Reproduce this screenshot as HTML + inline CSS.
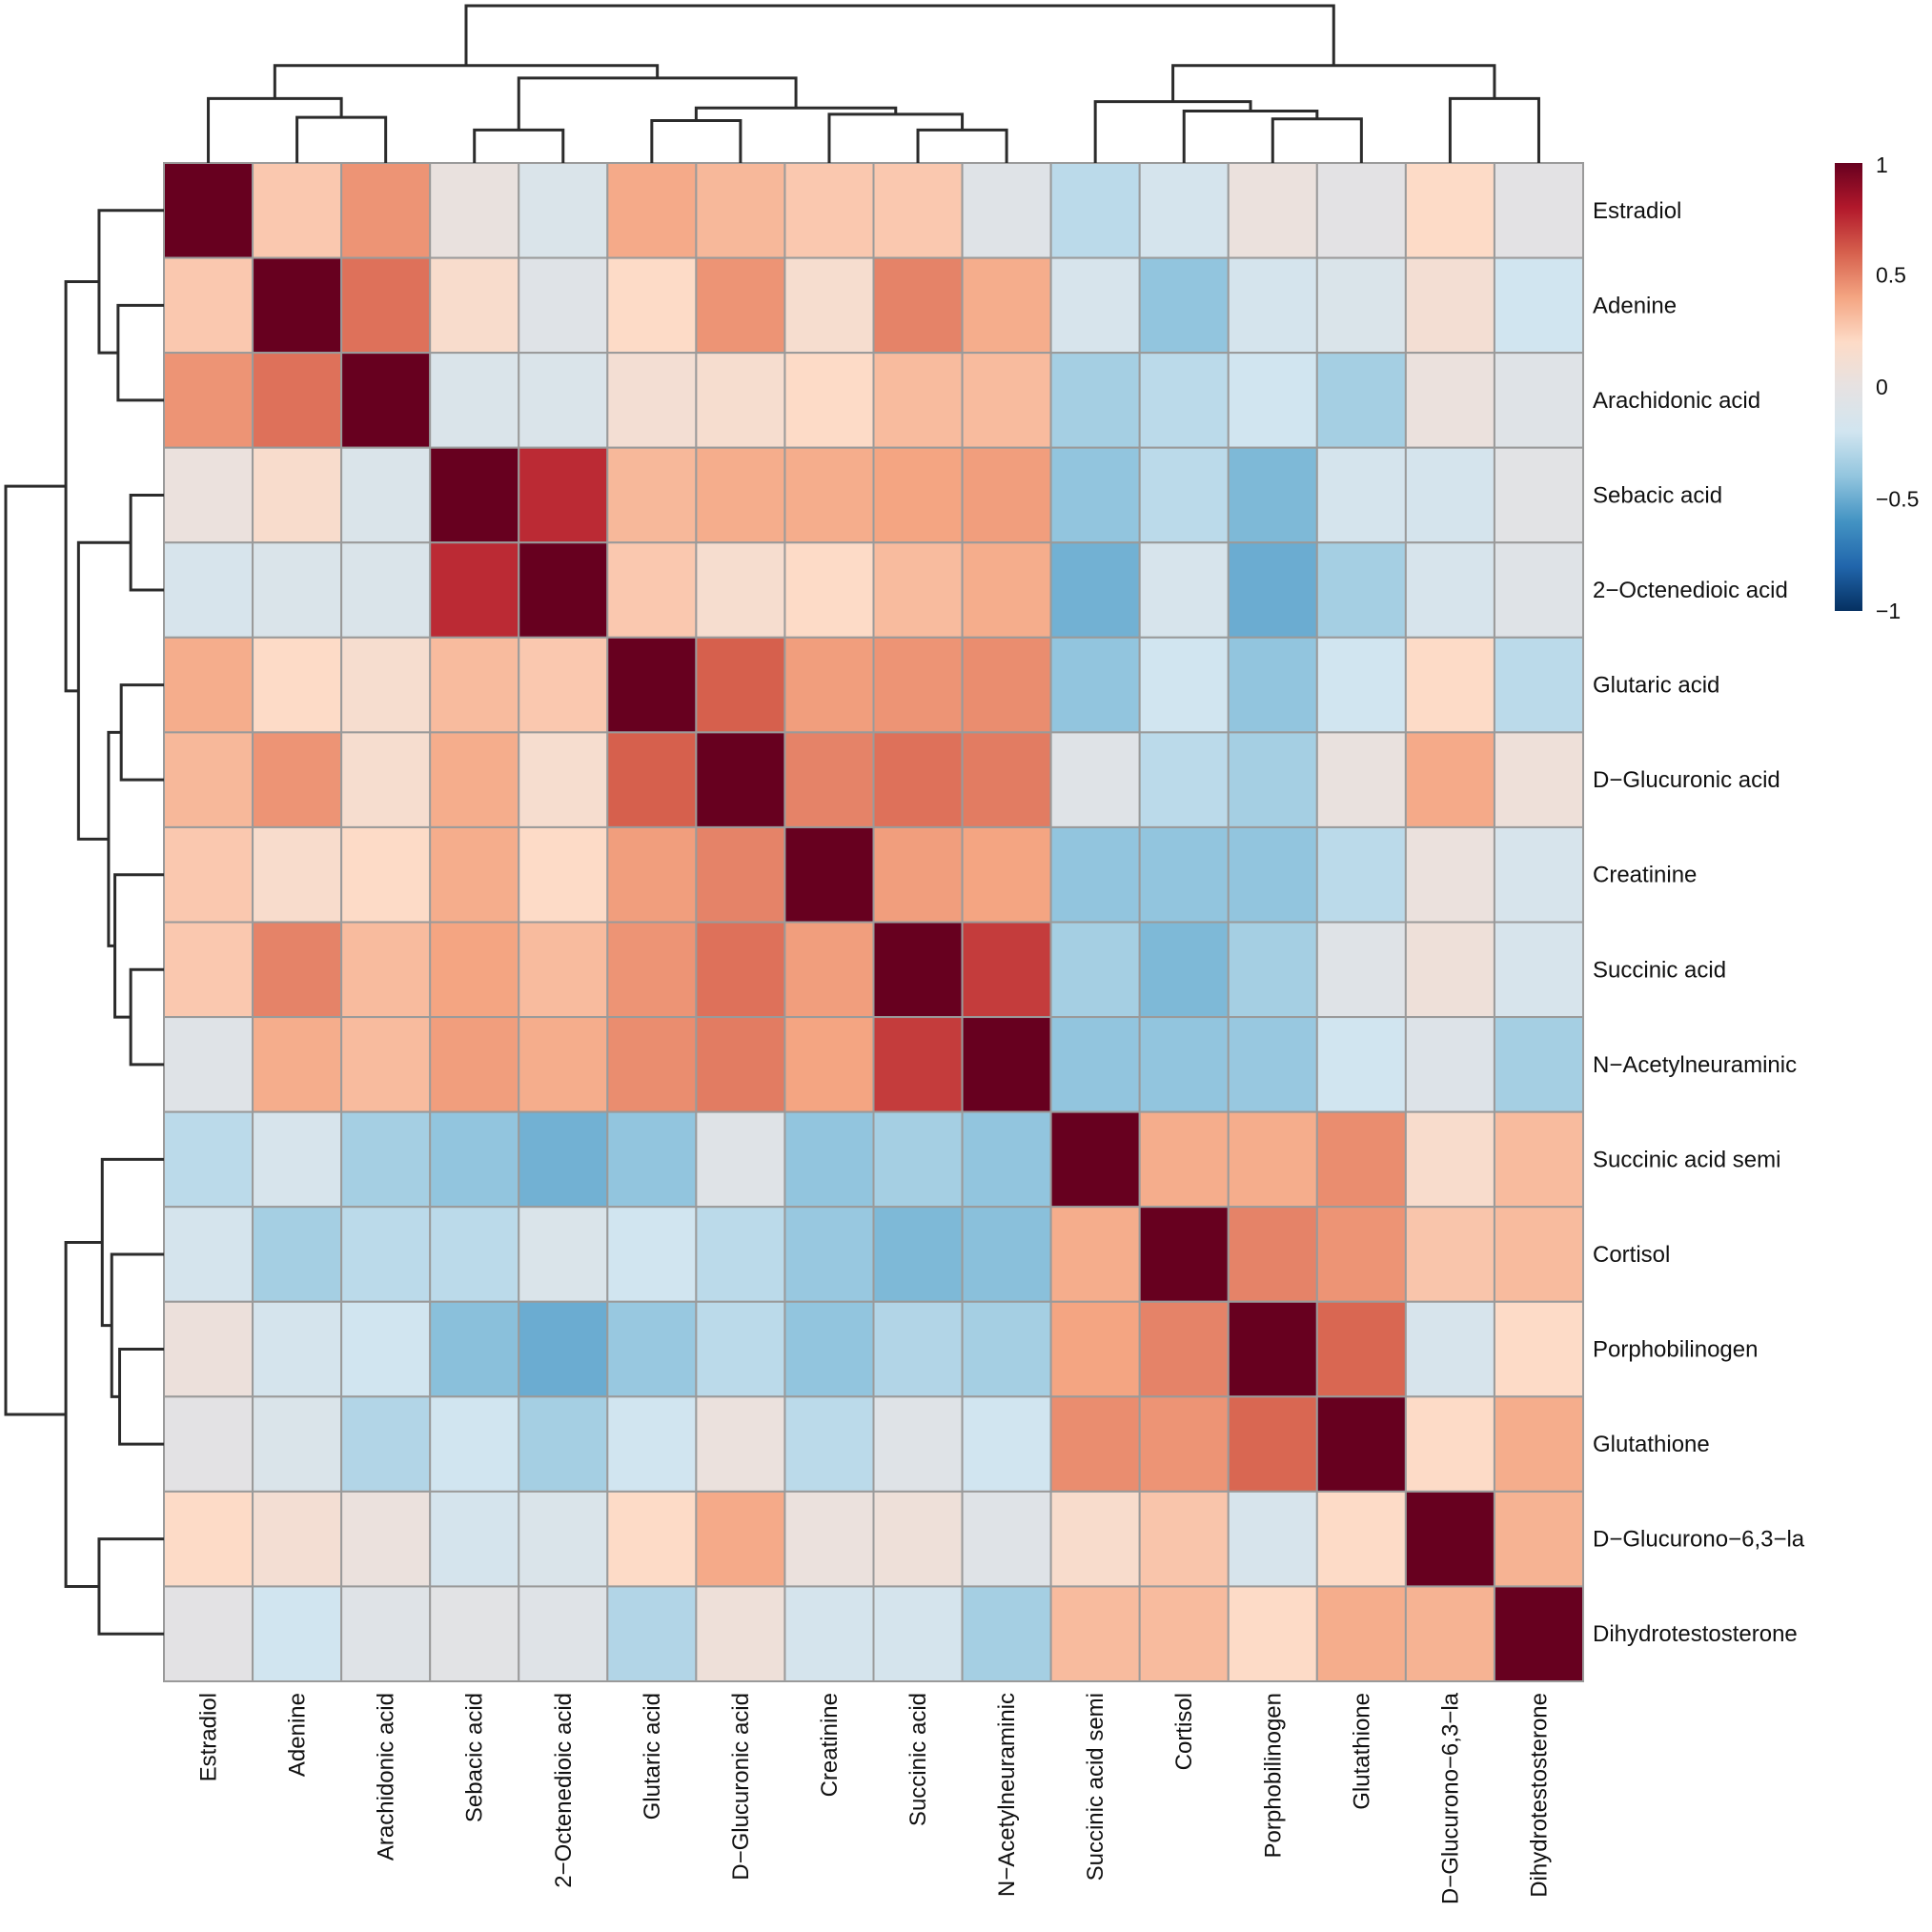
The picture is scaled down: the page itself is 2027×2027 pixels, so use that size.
<!DOCTYPE html>
<html><head><meta charset="utf-8"><style>
html,body{margin:0;padding:0;background:#fff;}
svg{display:block;font-family:"Liberation Sans",Arial,sans-serif;}
</style></head><body>
<svg id="chart" width="2027" height="2027" viewBox="0 0 2027 2027" xmlns="http://www.w3.org/2000/svg">
<g id="cells"></g>
<g id="dendro-top"></g>
<g id="dendro-left"></g>
<g id="rowlabels"></g>
<g id="collabels"></g>
<g id="legend"></g>
</svg>
<script>
const labels = ["Estradiol","Adenine","Arachidonic acid","Sebacic acid","2\u2212Octenedioic acid","Glutaric acid","D\u2212Glucuronic acid","Creatinine","Succinic acid","N\u2212Acetylneuraminic","Succinic acid semi","Cortisol","Porphobilinogen","Glutathione","D\u2212Glucurono\u22126,3\u2212la","Dihydrotestosterone"];
const corr = [
[1,.27,.45,.03,-.11,.38,.33,.27,.27,-.07,-.27,-.16,.04,-.03,.2,-.03],
[.27,1,.55,.16,-.07,.2,.45,.14,.5,.37,-.14,-.4,-.16,-.11,.11,-.2],
[.45,.55,1,-.11,-.11,.11,.14,.2,.32,.32,-.34,-.27,-.2,-.34,.04,-.07],
[.04,.16,-.11,1,.75,.33,.37,.37,.4,.42,-.4,-.27,-.45,-.16,-.16,-.04],
[-.14,-.11,-.11,.75,1,.27,.14,.2,.32,.37,-.48,-.14,-.5,-.34,-.14,-.07],
[.37,.2,.14,.32,.27,1,.6,.42,.45,.47,-.4,-.2,-.4,-.2,.2,-.27],
[.33,.45,.14,.37,.14,.6,1,.5,.55,.52,-.07,-.27,-.34,.03,.38,.07],
[.27,.16,.2,.37,.2,.42,.5,1,.42,.4,-.4,-.4,-.4,-.27,.04,-.14],
[.27,.5,.32,.4,.32,.45,.55,.42,1,.7,-.34,-.45,-.34,-.07,.07,-.14],
[-.07,.37,.32,.42,.37,.47,.52,.4,.7,1,-.4,-.4,-.38,-.2,-.09,-.34],
[-.27,-.14,-.34,-.4,-.48,-.4,-.07,-.4,-.34,-.4,1,.37,.37,.47,.16,.32],
[-.16,-.34,-.27,-.27,-.11,-.2,-.27,-.38,-.45,-.42,.37,1,.5,.45,.28,.32],
[.05,-.16,-.2,-.42,-.5,-.38,-.27,-.4,-.3,-.34,.4,.5,1,.58,-.14,.2],
[-.03,-.11,-.3,-.2,-.34,-.2,.04,-.27,-.07,-.2,.47,.45,.58,1,.2,.37],
[.2,.11,.04,-.16,-.11,.2,.38,.04,.07,-.07,.16,.28,-.14,.2,1,.35],
[-.03,-.2,-.07,-.04,-.07,-.3,.07,-.16,-.16,-.34,.32,.32,.2,.37,.35,1]
];
// dendrogram merges: [left child, right child, height (0 = leaves, 1 = root)]; leaves are 0..15, nodes 16+
const merges = [
[1,2,0.29],[0,16,0.41],[3,4,0.21],[8,9,0.21],[5,6,0.27],[7,19,0.31],[20,21,0.35],[18,22,0.54],[17,23,0.62],
[12,13,0.28],[11,25,0.33],[10,26,0.39],[14,15,0.41],[27,28,0.62],[24,29,1.0]
];
const legendTicks = [1,0.5,0,-0.5,-1];
const legendTickLabels = ["1","0.5","0","\u22120.5","\u22121"];

const X0=172, Y0=171, X1=1661, Y1=1764, N=labels.length;
const cw=(X1-X0)/N, ch=(Y1-Y0)/N;
const xOf=i=>X0+i*cw, yOf=i=>Y0+i*ch;
const stops=["#053061","#2166AC","#4393C3","#92C5DE","#D1E5F0","#E6E2E2","#FDDBC7","#F4A582","#D6604D","#B2182B","#67001F"];
function hex(h){return [1,3,5].map(k=>parseInt(h.substr(k,2),16));}
function color(v){
  let t=(Math.max(-1,Math.min(1,v))+1)/2*(stops.length-1);
  let i=Math.min(stops.length-2,Math.floor(t)), f=t-i;
  let a=hex(stops[i]), b=hex(stops[i+1]);
  return "rgb("+a.map((c,k)=>Math.round(c+(b[k]-c)*f)).join(",")+")";
}
const NS="http://www.w3.org/2000/svg";
function mk(tag,attrs,parent){const e=document.createElementNS(NS,tag);for(const k in attrs)e.setAttribute(k,attrs[k]);parent.appendChild(e);return e;}
const gc=document.getElementById('cells');
for(let r=0;r<N;r++)for(let c=0;c<N;c++){
  const e=mk('rect',{x:xOf(c),y:yOf(r),width:cw,height:ch,fill:color(corr[r][c]),stroke:'#9a9a9a','stroke-width':2},gc);
  
  
}
const gr=document.getElementById('rowlabels'), gcl=document.getElementById('collabels');
labels.forEach((l,i)=>{
  const t=mk('text',{x:X1+10,y:yOf(i)+ch/2+8,'font-size':24,fill:'#111'},gr);t.textContent=l;
  
  
  const cx=xOf(i)+cw/2+8;
  const u=mk('text',{x:cx,y:Y1+12,'font-size':24,fill:'#111','text-anchor':'end',transform:'rotate(-90 '+cx+' '+(Y1+12)+')'},gcl);u.textContent=l;
  
  
});
// dendrograms
const pos=[], hts=[];
for(let i=0;i<N;i++){pos[i]=i+0.5;hts[i]=0;}
merges.forEach((m,k)=>{pos[N+k]=(pos[m[0]]+pos[m[1]])/2;hts[N+k]=m[2];});
const DT=6, DB=Y0, DL=6, DR=X0;
const gt=document.getElementById('dendro-top'), gl=document.getElementById('dendro-left');
const st={stroke:'#2b2b2b','stroke-width':3,fill:'none'};
merges.forEach(m=>{
  const h=m[2];
  const xa=X0+pos[m[0]]*cw, xb=X0+pos[m[1]]*cw;
  const ya=DB-hts[m[0]]*(DB-DT), yb=DB-hts[m[1]]*(DB-DT), yh=DB-h*(DB-DT);
  const p=mk('path',Object.assign({d:`M${xa},${ya}V${yh}H${xb}V${yb}`},st),gt);
  
  
  const ra=Y0+pos[m[0]]*ch, rb=Y0+pos[m[1]]*ch;
  const xa2=DR-hts[m[0]]*(DR-DL), xb2=DR-hts[m[1]]*(DR-DL), xh=DR-h*(DR-DL);
  const q=mk('path',Object.assign({d:`M${xa2},${ra}H${xh}V${rb}H${xb2}`},st),gl);
  
  
});
// legend
const lg=document.getElementById('legend');
const LX=1925, LW=29, LT=171, LB=641;
const defs=mk('defs',{},lg);
const grad=mk('linearGradient',{id:'cg',x1:0,y1:1,x2:0,y2:0},defs);
stops.forEach((s,i)=>mk('stop',{offset:i/(stops.length-1),'stop-color':s},grad));
const bar=mk('rect',{x:LX,y:LT,width:LW,height:LB-LT,fill:'url(#cg)'},lg);


legendTicks.forEach((v,i)=>{
  const y=LT+(1-v)/2*(LB-LT);
  const t=mk('text',{x:LX+LW+14,y:y+8+(v===1?2:0),'font-size':23,fill:'#111'},lg);
  t.textContent=legendTickLabels[i];
  
  
});
</script>
</body></html>
